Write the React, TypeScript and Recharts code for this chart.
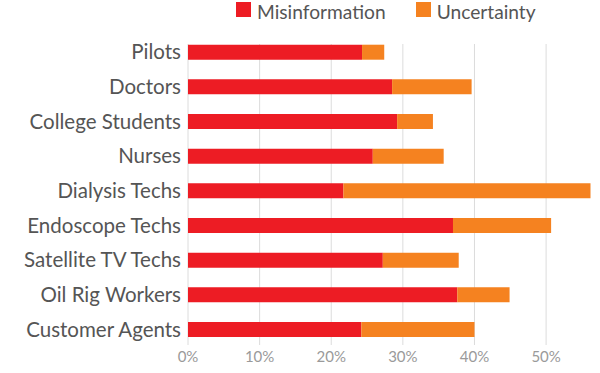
import React from "react";
import { BarChart, Bar, XAxis, YAxis, CartesianGrid, Legend } from "recharts";

const categories = [
  "Pilots",
  "Doctors",
  "College Students",
  "Nurses",
  "Dialysis Techs",
  "Endoscope Techs",
  "Satellite TV Techs",
  "Oil Rig Workers",
  "Customer Agents",
];
const misinformation = [24.3, 28.5, 29.2, 25.8, 21.7, 37.0, 27.2, 37.6, 24.2];
const uncertainty = [3.1, 11.1, 5.0, 9.9, 34.5, 13.7, 10.6, 7.3, 15.8];
const xTicks = [0, 10, 20, 30, 40, 50];

const data = categories.map((name, i) => ({
  name,
  Misinformation: misinformation[i],
  Uncertainty: uncertainty[i],
}));
const maxTotal = Math.max(...misinformation.map((m, i) => m + uncertainty[i]));

const RED = "#ED1C24";
const ORANGE = "#F58220";
const FONT = "Lato, 'Open Sans', sans-serif";

const LegendContent = () => (
  <div
    style={{
      display: "flex",
      alignItems: "flex-start",
      paddingLeft: 236,
      fontFamily: FONT,
      fontSize: 19.2,
      color: "#555",
      height: 20,
      overflow: "visible",
    }}
  >
    <span style={{ width: 15, height: 15, marginTop: 2, background: RED, display: "block", marginRight: 6, flexShrink: 0 }} />
    <span style={{ display: "block", lineHeight: "23px", marginRight: 30, whiteSpace: "nowrap" }}>Misinformation</span>
    <span style={{ width: 15, height: 15, marginTop: 2, background: ORANGE, display: "block", marginRight: 6, flexShrink: 0 }} />
    <span style={{ display: "block", lineHeight: "23px", whiteSpace: "nowrap" }}>Uncertainty</span>
  </div>
);

const gridX = (props: any) => {
  const xAxis = props?.xAxis;
  if (xAxis && typeof xAxis.scale === "function") {
    return xTicks.map((t) => xAxis.scale(t));
  }
  const off = props.offset;
  return xTicks.map((t) => off.left + (t / maxTotal) * off.width);
};

export default function App() {
  return (
    <div style={{ position: "absolute", left: 0, top: 0, width: 600, height: 373, background: "#fff" }}>
      <BarChart
        width={600}
        height={373}
        data={data}
        layout="vertical"
        margin={{ top: 14.7, right: 9.5, bottom: 0, left: 0 }}
        barSize={15}
      >
        <CartesianGrid
          horizontal={false}
          stroke="#dcdcdc"
          y={44}
          height={301}
          verticalCoordinatesGenerator={gridX}
        />
        <XAxis
          type="number"
          domain={[0, "dataMax"]}
          ticks={xTicks}
          tickFormatter={(v: number) => `${v}%`}
          axisLine={false}
          tickLine={false}
          tickSize={0}
          tickMargin={5}
          height={26.3}
          tick={{ fill: "#9a9a9a", fontSize: 15, fontFamily: FONT }}
        />
        <YAxis
          type="category"
          dataKey="name"
          width={188}
          axisLine={false}
          tickLine={false}
          tickSize={0}
          tickMargin={7}
          tick={{ fill: "#555", fontSize: 20.5, fontFamily: FONT }}
        />
        <Legend
          verticalAlign="top"
          content={<LegendContent />}
          wrapperStyle={{ position: "absolute", top: 0, left: 0, width: 600, height: 20 }}
        />
        <Bar dataKey="Misinformation" stackId="a" fill={RED} isAnimationActive={false} />
        <Bar dataKey="Uncertainty" stackId="a" fill={ORANGE} isAnimationActive={false} />
      </BarChart>
    </div>
  );
}
